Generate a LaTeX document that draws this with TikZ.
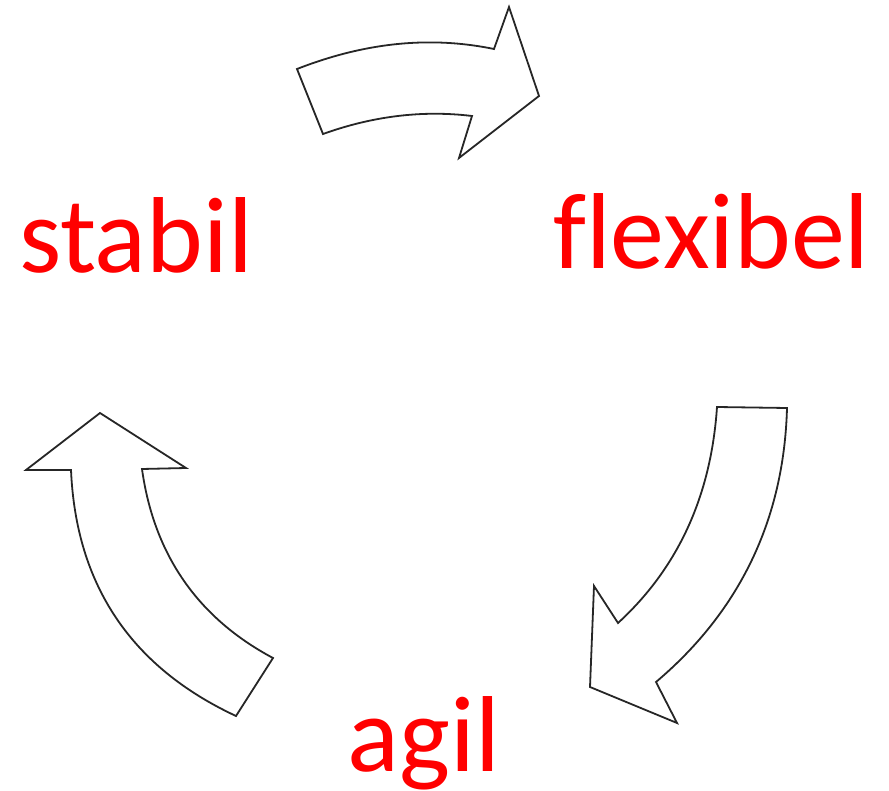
\documentclass[tikz,border=0pt]{standalone}
\usepackage{fontspec}
\setmainfont{Carlito}[Ligatures=NoCommon]
\begin{document}
\begin{tikzpicture}[x=1pt,y=-1pt,
  arrowshape/.style={draw=black!85,line width=1.8pt,line join=miter,fill=white},
  label/.style={text=red,inner sep=0pt,anchor=base,font=\fontsize{108}{120}\selectfont}]
\useasboundingbox (0,0) rectangle (889,791);
% top arrow
\draw[arrowshape] (297,69) .. controls (366,42) and (431,36) .. (494,49)
  -- (509,7) -- (539,96) -- (459,158) -- (472,116)
  .. controls (423,110) and (373,116) .. (323,134) -- cycle;
% right arrow
\draw[arrowshape] (717,407) -- (787,408)
  .. controls (784,519) and (740,611) .. (656,682)
  -- (677,723) -- (590,687) -- (594,586) -- (618,623)
  .. controls (678,568) and (711,496) .. cycle;
% left arrow
\draw[arrowshape] (100,413) -- (186,468) -- (142,469)
  .. controls (154,555) and (198,618) .. (273,658)
  -- (236,716)
  .. controls (131,667) and (76,585) .. (71,470)
  -- (26,470) -- cycle;
\node[label] (stabil) at (136,272.5) {stabil};
\node[label] (flexibel) at (711.5,269) {flexibel};
\node[label] (agil) at (424,771.5) {agil};
\end{tikzpicture}
\end{document}
